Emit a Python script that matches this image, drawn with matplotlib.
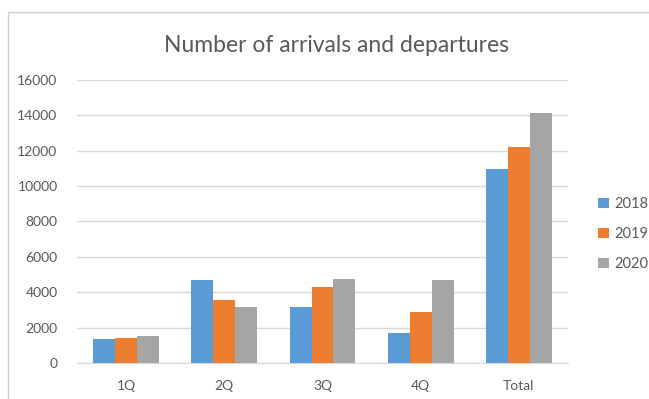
import numpy as np
import matplotlib.pyplot as plt
from matplotlib.patches import Rectangle

categories = ["1Q", "2Q", "3Q", "4Q", "Total"]
years = ["2018", "2019", "2020"]
v2018 = [1330, 4700, 3150, 1700, 10960]
v2019 = [1420, 3570, 4280, 2910, 12220]
v2020 = [1540, 3190, 4740, 4670, 14130]
colores = ["#5B9BD5", "#ED7D31", "#A5A5A5"]

plt.rcParams['font.family'] = ['Lato', 'DejaVu Sans']
txt = "#595959"

fig = plt.figure(figsize=(6.49, 3.99), dpi=100)
ax = fig.add_axes([77/649, 1-363/399, (568-77)/649, (363-80)/399])

x = np.arange(len(categories))
ancho = 0.223
for i, (vals, yr) in enumerate(zip([v2018, v2019, v2020], years)):
    ax.bar(x + (i-1)*ancho, vals, ancho, color=colores[i], label=yr, zorder=3)

ax.set_xlim(-0.5, len(categories)-0.5)
ax.set_ylim(0, 16000)
ax.set_yticks(np.arange(0, 16001, 2000))
ax.set_xticks(x)
ax.set_xticklabels(categories)
ax.grid(axis='y', color="#D9D9D9", linewidth=1, zorder=0)
for s in ax.spines.values():
    s.set_visible(False)
ax.spines['bottom'].set_visible(True)
ax.spines['bottom'].set_color("#D9D9D9")
ax.tick_params(length=0, colors=txt, labelsize=10)
ax.tick_params(axis='x', pad=12)
ax.tick_params(axis='y', pad=14)

fig.text(337/649, 1-45/399, "Number of arrivals and departures", ha='center', va='center',
         fontsize=16.5, color=txt)

ax.legend(loc='center left', bbox_to_anchor=(1.035, 0.455), frameon=False, fontsize=10.5,
          labelcolor=txt, handlelength=0.7, handleheight=0.7, handletextpad=0.4,
          labelspacing=1.1)

fig.patches.append(Rectangle((8/649, -0.1), 1.2, 1-12/399+0.1, transform=fig.transFigure,
                             fill=False, edgecolor="#D0D0D0", linewidth=1))

plt.savefig("out.png", dpi=100)
